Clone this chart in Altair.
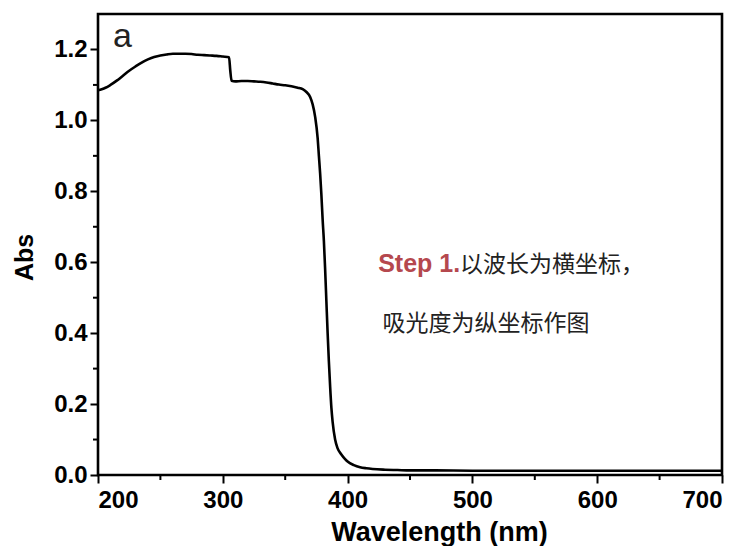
import altair as alt
import pandas as pd

wavelength = [200, 203, 206, 210, 215, 220, 225, 230, 235, 240, 245, 250, 255, 260, 265, 270,
              275, 280, 285, 290, 295, 300, 305, 306, 307, 310, 315, 320, 325, 330, 335, 340,
              345, 350, 355, 360, 364, 367, 370, 372, 374, 376, 377, 378, 379, 380, 381, 382,
              383, 384, 385, 386, 387, 388, 390, 392, 395, 398, 400, 405, 410, 415, 420, 430,
              440, 450, 470, 500, 550, 600, 650, 700]
absorbance = [1.085, 1.088, 1.092, 1.100, 1.112, 1.126, 1.140, 1.152, 1.163, 1.172, 1.179, 1.183,
              1.186, 1.188, 1.188, 1.188, 1.187, 1.185, 1.184, 1.183, 1.182, 1.180, 1.178, 1.140,
              1.112, 1.110, 1.111, 1.111, 1.110, 1.109, 1.107, 1.104, 1.101, 1.099, 1.096, 1.092,
              1.088, 1.080, 1.066, 1.045, 1.010, 0.950, 0.900, 0.850, 0.790, 0.720, 0.660, 0.580,
              0.490, 0.400, 0.320, 0.250, 0.190, 0.150, 0.100, 0.075, 0.058, 0.045, 0.038, 0.028,
              0.022, 0.019, 0.017, 0.015, 0.014, 0.013, 0.013, 0.012, 0.012, 0.012, 0.012, 0.012]

x_ticks = [200, 300, 400, 500, 600, 700]
x_minor = [250, 350, 450, 550, 650]
y_ticks = [0.0, 0.2, 0.4, 0.6, 0.8, 1.0, 1.2]
y_minor = [0.1, 0.3, 0.5, 0.7, 0.9, 1.1]

W, H = 624, 461
FONT = "Liberation Sans"

df = pd.DataFrame({"wl": wavelength, "abs": absorbance})
xs = alt.Scale(domain=[200, 700], nice=False, zero=False)
ys = alt.Scale(domain=[0, 1.3], nice=False, zero=False)

line = alt.Chart(df).mark_line(color="black", strokeWidth=2.6, interpolate="monotone").encode(
    x=alt.X("wl:Q", scale=xs, axis=alt.Axis(
        values=x_ticks, title="Wavelength (nm)", domain=False, grid=False,
        tickSize=8, tickWidth=2, tickColor="black", labelPadding=5,
        labelFont=FONT, labelFontSize=24, labelFontWeight="bold", labelColor="black",
        titleFont=FONT, titleFontSize=27, titleFontWeight="bold", titleColor="black",
        titleX=341, titleY=65, titleBaseline="alphabetic", titleAlign="center")),
    y=alt.Y("abs:Q", scale=ys, axis=alt.Axis(
        values=y_ticks, format=".1f", title="Abs", domain=False, grid=False,
        tickSize=8, tickWidth=2, tickColor="black", labelPadding=3,
        labelFont=FONT, labelFontSize=24, labelFontWeight="bold", labelColor="black",
        titleFont=FONT, titleFontSize=25, titleFontWeight="bold", titleColor="black",
        titleX=-74, titleY=243, titleBaseline="middle", titleAlign="center", titleAngle=-90)),
)

xminor = alt.Chart(pd.DataFrame({"wl": x_minor})).mark_rule(color="black", strokeWidth=2).encode(
    x=alt.X("wl:Q", scale=xs), y=alt.value(H), y2=alt.value(H + 5))
yminor = alt.Chart(pd.DataFrame({"abs": y_minor})).mark_rule(color="black", strokeWidth=2).encode(
    y=alt.Y("abs:Q", scale=ys), x=alt.value(0), x2=alt.value(-5))

label_a = alt.Chart(pd.DataFrame({"wl": [212], "abs": [1.207], "t": ["a"]})).mark_text(
    align="left", baseline="alphabetic", font=FONT, fontSize=34, color="#222222").encode(
    x=alt.X("wl:Q", scale=xs), y=alt.Y("abs:Q", scale=ys), text="t:N")

step = alt.Chart(pd.DataFrame({"wl": [424.5], "abs": [0.572], "t": ["Step 1."]})).mark_text(
    align="left", baseline="alphabetic", font=FONT, fontSize=25, fontWeight="bold",
    color="#b5484e").encode(x=alt.X("wl:Q", scale=xs), y=alt.Y("abs:Q", scale=ys), text="t:N")

cn1 = alt.Chart(pd.DataFrame({"wl": [490], "abs": [0.572], "t": ["以波长为横坐标，"]})).mark_text(
    align="left", baseline="alphabetic", font="Noto Sans CJK SC", fontSize=23,
    color="#222222").encode(x=alt.X("wl:Q", scale=xs), y=alt.Y("abs:Q", scale=ys), text="t:N")

cn2 = alt.Chart(pd.DataFrame({"wl": [428], "abs": [0.405], "t": ["吸光度为纵坐标作图"]})).mark_text(
    align="left", baseline="alphabetic", font="Noto Sans CJK SC", fontSize=23,
    color="#222222").encode(x=alt.X("wl:Q", scale=xs), y=alt.Y("abs:Q", scale=ys), text="t:N")

chart = alt.layer(line, xminor, yminor, label_a, step, cn1, cn2).properties(
    width=W, height=H,
    background="white",
    autosize=alt.AutoSizeParams(type="none"),
    padding={"left": 98, "top": 14, "right": 27, "bottom": 71},
).configure_view(stroke="black", strokeWidth=2.6)

chart.save("out.html", embed_options={"renderer": "svg", "actions": False})
